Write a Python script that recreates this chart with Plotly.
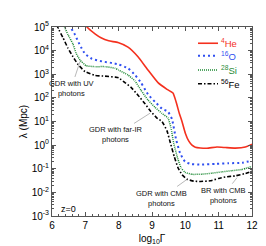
import plotly.graph_objects as go
import numpy as np

# log10(Gamma) and lambda (Mpc)
he_x = [7.0, 7.05, 7.3, 7.47, 7.7, 7.98, 8.28, 8.58, 8.88, 9.18, 9.45, 9.63, 9.72, 9.82, 9.9, 10.0, 10.1, 10.2, 10.3, 10.45, 10.65, 10.95, 11.2, 11.5, 11.8, 12.0]
he_y = [1.26e5, 1.0e5, 5.0e4, 3.5e4, 2.6e4, 2.2e4, 1.4e4, 5.5e3, 1.5e3, 4.4e2, 2.3e2, 1.6e2, 7.0e1, 2.2e1, 1.0e1, 3.2, 1.5, 1.0, 0.82, 0.76, 0.74, 0.83, 0.79, 0.75, 0.83, 1.1]

o_x = [6.52, 6.57, 6.69, 6.78, 6.87, 7.0, 7.2, 7.5, 7.8, 8.0, 8.28, 8.49, 8.67, 8.88, 9.09, 9.3, 9.48, 9.6, 9.72, 9.84, 9.99, 10.17, 10.5, 10.9, 11.3, 11.7, 12.0]
o_y = [1.26e5, 9.1e4, 4.7e4, 2.5e4, 1.4e4, 7.1e3, 4.5e3, 3.5e3, 3.0e3, 2.6e3, 1.8e3, 9.3e2, 4.4e2, 1.4e2, 6.8e1, 3.5e1, 2.6e1, 1.26e1, 1.8, 0.47, 0.2, 0.158, 0.15, 0.16, 0.17, 0.18, 0.22]

si_x = [6.35, 6.39, 6.48, 6.63, 6.72, 6.84, 7.02, 7.29, 7.59, 7.89, 8.0, 8.28, 8.49, 8.67, 8.88, 9.09, 9.3, 9.48, 9.57, 9.65, 9.78, 9.87, 9.99, 10.2, 10.5, 10.8, 11.1, 11.4, 11.7, 12.0]
si_y = [1.26e5, 9.1e4, 4.7e4, 1.9e4, 7.9e3, 4.0e3, 2.3e3, 2.1e3, 2.1e3, 1.8e3, 1.5e3, 9.3e2, 5.2e2, 2.1e2, 8.1e1, 4.0e1, 2.2e1, 1.4e1, 5.4, 1.2, 0.25, 0.11, 0.071, 0.058, 0.059, 0.065, 0.074, 0.083, 0.093, 0.126]

fe_x = [6.15, 6.18, 6.33, 6.48, 6.63, 6.78, 6.99, 7.29, 7.59, 7.89, 8.0, 8.19, 8.37, 8.58, 8.79, 8.97, 9.15, 9.3, 9.45, 9.55, 9.67, 9.78, 9.9, 10.05, 10.25, 10.45, 10.75, 11.0, 11.2, 11.5, 11.8, 12.0]
fe_y = [1.26e5, 9.1e4, 3.5e4, 1.26e4, 5.5e3, 2.6e3, 1.3e3, 8.9e2, 8.3e2, 7.6e2, 7.1e2, 4.4e2, 2.8e2, 1.3e2, 5.6e1, 2.6e1, 1.4e1, 1.0e1, 4.0, 1.26, 0.32, 0.11, 0.056, 0.036, 0.03, 0.029, 0.031, 0.039, 0.045, 0.05, 0.063, 0.079]

series = [
    ("<sup>4</sup>He", he_x, he_y, "#f4301e", "solid", 1.6),
    ("<sup>16</sup>O", o_x, o_y, "#2f4ff0", "2px,3px", 2.0),
    ("<sup>28</sup>Si", si_x, si_y, "#1f8a35", "1px,1px", 1.5),
    ("<sup>56</sup>Fe", fe_x, fe_y, "#000000", "4px,2px,1.5px,2px", 1.6),
]

y_tickvals = [1e-3, 1e-2, 1e-1, 1e0, 1e1, 1e2, 1e3, 1e4, 1e5]
y_ticktext = ["10<sup>-3</sup>", "10<sup>-2</sup>", "10<sup>-1</sup>", "10<sup>0</sup>",
              "10<sup>1</sup>", "10<sup>2</sup>", "10<sup>3</sup>", "10<sup>4</sup>", "10<sup>5</sup>"]
x_tickvals = [6, 7, 8, 9, 10, 11, 12]
y_minor = [k * 10.0 ** e for e in range(-3, 5) for k in range(2, 10)]

fig = go.Figure()
for name, xs, ys, col, dash, w in series:
    fig.add_trace(go.Scatter(x=xs, y=ys, mode="lines", name=name,
                             line=dict(color=col, dash=dash, width=w, shape="spline", smoothing=0.4),
                             showlegend=False))

# manual legend
leg_y = [0.914, 0.848, 0.772, 0.70]
for (name, xs, ys, col, dash, w), ly in zip(series, leg_y):
    fig.add_shape(type="line", xref="paper", yref="paper", x0=0.73, x1=0.83, y0=ly, y1=ly,
                  line=dict(color=col, dash=dash, width=w))
    fig.add_annotation(xref="paper", yref="paper", x=0.835, y=ly, text=name, showarrow=False,
                       xanchor="left", yanchor="middle", font=dict(color=col, size=9.5))

ann_font = dict(size=7.5, color="#111")
notes = [
    ("GDR with UV<br>photons", 6.84, 3.54, 6.57, 2.38),
    ("GDR with far-IR<br>photons", 8.94, 1.35, 7.92, 0.43),
    ("GDR with CMB<br>photons", 10.05, -1.45, 9.27, -2.24),
    ("BR with CMB<br>photons", 11.55, -1.38, 11.13, -2.13),
]
for txt, hx, hy, tx, ty in notes:
    fig.add_annotation(x=hx, y=hy, ax=tx, ay=ty, axref="x", ayref="y", xref="x", yref="y",
                       text=txt, showarrow=True, arrowhead=0, arrowwidth=0.6, arrowcolor="#888",
                       font=ann_font, standoff=0, startstandoff=1)
fig.add_annotation(x=6.48, y=-2.72, text="z=0", showarrow=False, font=dict(size=9, color="#000"))

axis_common = dict(showline=True, linecolor="#555", linewidth=1, mirror="ticks", ticks="inside",
                   tickcolor="#555", ticklen=4, showgrid=False, zeroline=False,
                   tickfont=dict(size=10, color="#000"))
fig.update_xaxes(range=[6, 12], tickvals=x_tickvals, ticktext=[str(v) for v in x_tickvals],
                 minor=dict(ticks="inside", ticklen=2, dtick=0.2, tickcolor="#555", showgrid=False),
                 title=dict(text="log<sub>10</sub>Γ", font=dict(size=10, color="#000"), standoff=4),
                 **axis_common)
fig.update_yaxes(type="log", range=[-3, 5], tickvals=y_tickvals, ticktext=y_ticktext,
                 minor=dict(ticks="inside", ticklen=2, tickvals=y_minor, tickcolor="#555", showgrid=False),
                 title=dict(text="λ (Mpc)", font=dict(size=10, color="#000"), standoff=2),
                 **axis_common)
fig.update_layout(width=266, height=246, margin=dict(l=44, r=22, t=12, b=37),
                  paper_bgcolor="white", plot_bgcolor="white",
                  font=dict(family="Liberation Sans, Arial, sans-serif"))
fig.write_html("out.html")
